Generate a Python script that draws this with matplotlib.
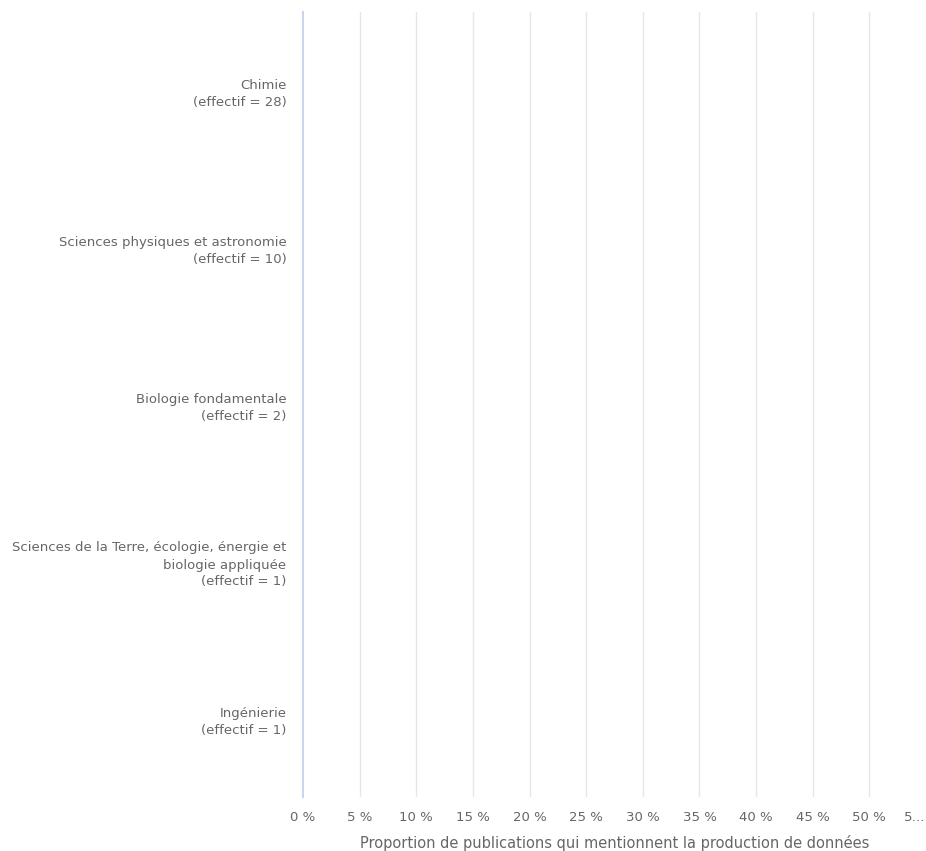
import matplotlib
matplotlib.use("Agg")
import matplotlib.pyplot as plt

categories = [
    "Chimie\n(effectif = 28)",
    "Sciences physiques et astronomie\n(effectif = 10)",
    "Biologie fondamentale\n(effectif = 2)",
    "Sciences de la Terre, écologie, énergie et\nbiologie appliquée\n(effectif = 1)",
    "Ingénierie\n(effectif = 1)",
]
values = [0, 0, 0, 0, 0]
tick_values = [0, 5, 10, 15, 20, 25, 30, 35, 40, 45, 50, 55]
tick_labels = ["0 %", "5 %", "10 %", "15 %", "20 %", "25 %", "30 %", "35 %",
               "40 %", "45 %", "50 %", "5…"]
x_title = "Proportion de publications qui mentionnent la production de données"

plt.rcParams['font.family'] = ['DejaVu Sans']
W, H = 926, 851
fig = plt.figure(figsize=(W / 100, H / 100), dpi=100)
ax = fig.add_axes([303 / W, 1 - 797 / H, (926 - 303) / W, (797 - 12) / H])

y = list(range(len(categories)))
ax.barh(y, values, height=0.6, color="#7cb5ec")
ax.set_ylim(len(categories) - 0.5, -0.5)
ax.set_xlim(0, 55)

ax.set_yticks(y)
ax.set_yticklabels(categories, fontsize=9.5, color="#666666", ha="right",
                   linespacing=1.4)
ax.tick_params(axis="y", length=0, pad=12)

ax.set_xticks(tick_values)
ax.set_xticklabels(tick_labels, fontsize=9.5, color="#666666")
ax.tick_params(axis="x", length=0, pad=10)
labs = ax.get_xticklabels()
labs[-1].set_ha("right")

for v in tick_values[1:-1]:
    ax.axvline(v, color="#e6e6e6", linewidth=1, zorder=0)

for s in ["top", "right", "bottom"]:
    ax.spines[s].set_visible(False)
ax.spines["left"].set_color("#ccd6eb")
ax.spines["left"].set_linewidth(1.5)

ax.set_xlabel(x_title, fontsize=10.5, color="#666666", labelpad=8)

fig.savefig("out.png", dpi=100)
